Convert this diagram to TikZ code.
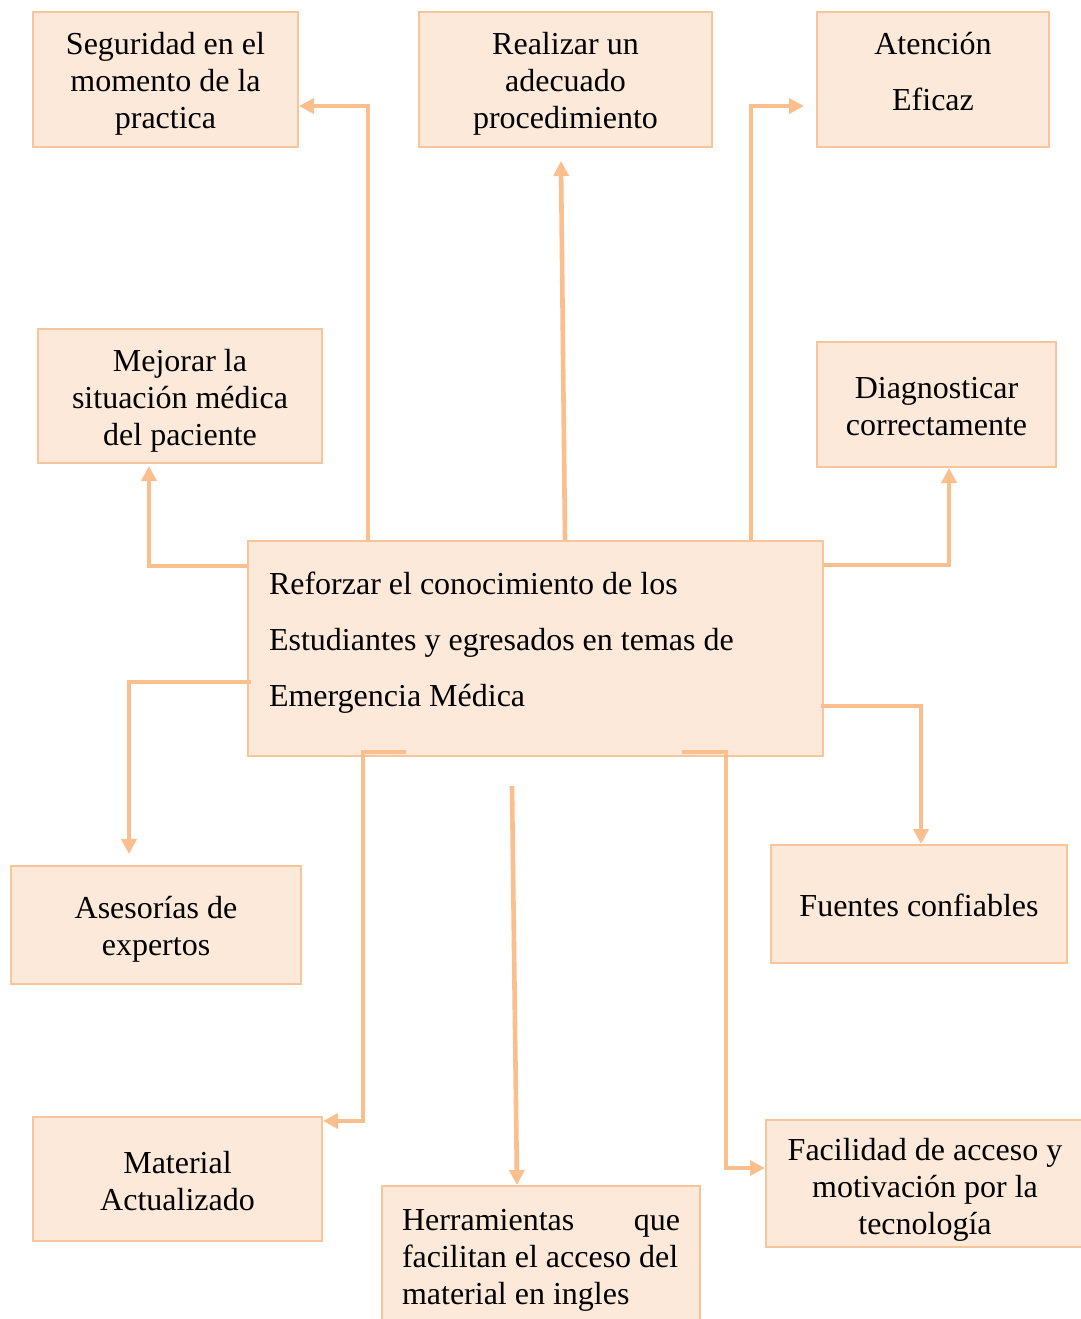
\documentclass[tikz,border=0pt]{standalone}
\usepackage{fontspec}
\setmainfont{Liberation Serif}
\usetikzlibrary{arrows.meta,calc}
\definecolor{boxfill}{HTML}{FCE9D9}
\definecolor{boxline}{HTML}{F8C49A}
\definecolor{arrowc}{HTML}{FABF8D}
\newcommand{\tstrut}[1]{\rule{0pt}{#1}}
\newcommand{\bstrut}[1]{\rule[-#1]{0pt}{0pt}}
\newcommand{\normsp}{\spaceskip=0pt \xspaceskip=0pt }
\begin{document}
\begin{tikzpicture}[x=0.5pt,y=-0.5pt,
  box/.style={draw=boxline,fill=boxfill,line width=1pt,align=center,inner sep=0pt,
    font=\fontsize{16}{18.5}\selectfont},
  conn/.style={draw=arrowc,line width=2.3pt,-{Triangle[width=7.5pt,length=7.5pt]}}]
\useasboundingbox (0,0) rectangle (1081,1319);
\clip (0,0) rectangle (1081,1319);
% boxes
\node[box,minimum width=132.5pt,minimum height=67.5pt] (seg) at (165.5,79.5) {\tstrut{15pt}Seguridad en el\\momento de la\\practica};
\node[box,minimum width=146.5pt,minimum height=67.5pt] (rea) at (565.5,79.5) {\tstrut{15pt}Realizar un\\adecuado\\procedimiento};
\node[box,minimum width=116pt,minimum height=67.5pt] (ate) at (933,79.5) {Atención\\[9.5pt]Eficaz\bstrut{8pt}};
\node[box,minimum width=142pt,minimum height=67pt] (mej) at (180,396) {\tstrut{15.5pt}Mejorar la\\situación médica\\del paciente};
\node[box,minimum width=119.5pt,minimum height=62.5pt] (dia) at (936.5,404.5) {\tstrut{13pt}Diagnosticar\\correctamente};
\node[box,minimum width=287.5pt,minimum height=107.5pt,align=left,text width=266.5pt,inner xsep=10.5pt,
  font=\fontsize{16}{28}\selectfont] (cen) at (535.5,648.5) {\normsp Reforzar el conocimiento de los\\Estudiantes y egresados en temas de\\Emergencia Médica\bstrut{9pt}};
\node[box,minimum width=145pt,minimum height=59pt] (ase) at (156,925) {\tstrut{15.5pt}Asesorías de\\expertos};
\node[box,minimum width=148pt,minimum height=59pt] (fue) at (919,904) {\tstrut{13pt}Fuentes confiables};
\node[box,minimum width=144.5pt,minimum height=62pt] (mat) at (177.5,1179) {\tstrut{13pt}Material\\Actualizado};
\node[box,minimum width=159pt,minimum height=70pt,align=left,text width=139pt,inner xsep=10pt] (her) at (541,1256) {\normsp\tstrut{15pt}Herramientas\hfill que\\facilitan el acceso del\\material en ingles};
\node[box,minimum width=159pt,minimum height=63.5pt] (fac) at (925,1183.5) {\tstrut{17pt}Facilidad de acceso y\\motivación por la\\tecnología};
% connectors
\draw[conn] ($(cen.north west)+(121,0)$) |- ($(seg.east)+(0,26.5)$);
\draw[conn] ($(cen.north west)+(318,0)$) -- ($(rea.south)+(-4.5,13)$);
\draw[conn] ($(cen.north west)+(504,0)$) |- ($(ate.west)+(-12,26.5)$);
\draw[conn] ($(cen.north west)+(0,26)$) -| ($(mej.south)+(-31,2)$);
\draw[conn] ($(cen.north east)+(0,25)$) -| ($(dia.south)+(12.5,0)$);
\draw[conn] ($(cen.north west)+(4,142)$) -| ($(ase.north)+(-27,-11)$);
\draw[conn] ($(cen.north east)+(-3,166)$) -| ($(fue.north)+(2,0)$);
\draw[conn] ($(cen.south west)+(159,-5)$) -- ++(-43,0) |- ($(mat.north east)+(0,5)$);
\coordinate (hstart) at ($(cen.south)+(-23.5,29)$);
\draw[conn] (hstart) -- ($(her.north)+(-24,0)$);
\draw[conn] ($(cen.south east)+(-142,-5)$) -- ++(44,0) |- ($(fac.west)+(0,-15.5)$);
\end{tikzpicture}
\end{document}
